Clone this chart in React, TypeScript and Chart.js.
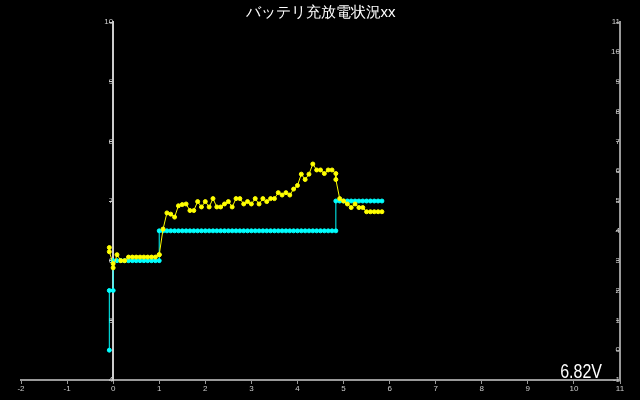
import React, { useEffect, useRef } from "react";
import { Chart, registerables } from "chart.js";

Chart.register(...registerables);

const TITLE = "バッテリ充放電状況xx";

// sample times in minutes (converted to hours on the x axis)
const timesMin = [
  -5, -5, 0, 0, 5, 10, 15, 20, 25, 30, 35, 40, 45, 50, 55, 60, 60, 65, 70, 75,
  80, 85, 90, 95, 100, 105, 110, 115, 120, 125, 130, 135, 140, 145, 150, 155,
  160, 165, 170, 175, 180, 185, 190, 195, 200, 205, 210, 215, 220, 225, 230,
  235, 240, 245, 250, 255, 260, 265, 270, 275, 280, 285, 290, 290, 295, 300,
  305, 310, 315, 320, 325, 330, 335, 340, 345, 350,
];

// battery voltage (left axis)
const voltage = [
  6.22, 6.15, 5.95, 5.88, 6.1, 6.0, 6.0, 6.06, 6.06, 6.06, 6.06, 6.06, 6.06,
  6.06, 6.06, 6.1, 6.1, 6.53, 6.8, 6.78, 6.73, 6.92, 6.94, 6.95, 6.84, 6.84,
  6.99, 6.9, 6.99, 6.9, 7.04, 6.9, 6.9, 6.95, 6.99, 6.9, 7.04, 7.04, 6.95,
  6.99, 6.95, 7.04, 6.95, 7.04, 6.99, 7.04, 7.04, 7.14, 7.1, 7.14, 7.1, 7.2,
  7.26, 7.45, 7.36, 7.45, 7.62, 7.52, 7.52, 7.46, 7.52, 7.52, 7.46, 7.36,
  7.04, 7.0, 6.95, 6.89, 6.95, 6.89, 6.89, 6.82, 6.82, 6.82, 6.82, 6.82,
];

// charge state (right axis)
const state = [
  0, 2, 2, 3, 3, 3, 3, 3, 3, 3, 3, 3, 3, 3, 3, 3, 4, 4, 4, 4, 4, 4, 4, 4, 4,
  4, 4, 4, 4, 4, 4, 4, 4, 4, 4, 4, 4, 4, 4, 4, 4, 4, 4, 4, 4, 4, 4, 4, 4, 4,
  4, 4, 4, 4, 4, 4, 4, 4, 4, 4, 4, 4, 4, 5, 5, 5, 5, 5, 5, 5, 5, 5, 5, 5, 5, 5,
];

const X_MIN = -2;
const X_MAX = 11;
const LEFT_MIN = 4;
const LEFT_MAX = 10;
const RIGHT_MIN = -1;
const RIGHT_MAX = 11;

export default function App() {
  const ref = useRef<HTMLCanvasElement>(null);

  useEffect(() => {
    const canvas = ref.current!;
    const vData = timesMin.map((t, i) => ({ x: t / 60, y: voltage[i] }));
    const sData = timesMin.map((t, i) => ({ x: t / 60, y: state[i] }));

    const bg = {
      id: "bg",
      beforeDraw(c: any) {
        const ctx = c.ctx;
        ctx.save();
        ctx.fillStyle = "#000";
        ctx.fillRect(0, 0, c.width, c.height);
        ctx.restore();
      },
    };
    const lastValue = {
      id: "lastValue",
      afterDraw(c: any) {
        const ctx = c.ctx;
        const a = c.chartArea;
        ctx.save();
        ctx.fillStyle = "#fff";
        ctx.font = '20px "Liberation Sans", Arial, sans-serif';
        ctx.textAlign = "right";
        ctx.textBaseline = "alphabetic";
        ctx.translate(a.right - 18, a.bottom - 2);
        ctx.scale(0.8, 1);
        ctx.fillText(voltage[voltage.length - 1].toFixed(2) + "V", 0, 0);
        ctx.restore();
      },
    };

    const tickFont = { size: 8 };
    const chart = new Chart(canvas, {
      type: "line",
      data: {
        datasets: [
          {
            label: "voltage",
            data: vData,
            yAxisID: "y",
            borderColor: "#ffff00",
            backgroundColor: "#ffff00",
            borderWidth: 1,
            pointRadius: 2,
            pointHoverRadius: 2,
            tension: 0,
          },
          {
            label: "state",
            data: sData,
            yAxisID: "y1",
            borderColor: "#00ffff",
            backgroundColor: "#00ffff",
            borderWidth: 1,
            pointRadius: 2,
            pointHoverRadius: 2,
            tension: 0,
          },
        ],
      },
      options: {
        responsive: false,
        animation: false,
        layout: { padding: { left: 21, right: 20, top: 2, bottom: 20 } },
        plugins: {
          legend: { display: false },
          tooltip: { enabled: false },
          title: {
            display: true,
            text: TITLE,
            color: "#fff",
            font: { size: 15, weight: "normal" },
            padding: { top: 2, bottom: 0 },
          },
        },
        scales: {
          x: {
            type: "linear",
            position: { y: LEFT_MIN } as any,
            min: X_MIN,
            max: X_MAX,
            ticks: { stepSize: 1, color: "#ccc", font: tickFont, padding: 1 },
            grid: { drawOnChartArea: false, color: "#999", tickLength: 3 },
            border: { color: "#999", width: 2 },
          },
          y: {
            type: "linear",
            position: { x: 0 } as any,
            min: LEFT_MIN,
            max: LEFT_MAX,
            ticks: { stepSize: 1, color: "#ccc", font: tickFont, padding: 1 },
            grid: { drawOnChartArea: false, color: "#ccc", tickLength: 3 },
            border: { color: "#ccc", width: 2 },
          },
          y1: {
            type: "linear",
            position: { x: X_MAX } as any,
            min: RIGHT_MIN,
            max: RIGHT_MAX,
            ticks: { stepSize: 1, color: "#ccc", font: tickFont, padding: 1 },
            grid: { drawOnChartArea: false, color: "#999", tickLength: 3 },
            border: { color: "#999", width: 2 },
          },
        },
      },
      plugins: [bg, lastValue],
    } as any);
    return () => chart.destroy();
  }, []);

  return (
    <div style={{ position: "fixed", left: 0, top: 0, width: 640, height: 400, background: "#000" }}>
      <canvas ref={ref} width={640} height={400} style={{ display: "block" }} />
    </div>
  );
}
